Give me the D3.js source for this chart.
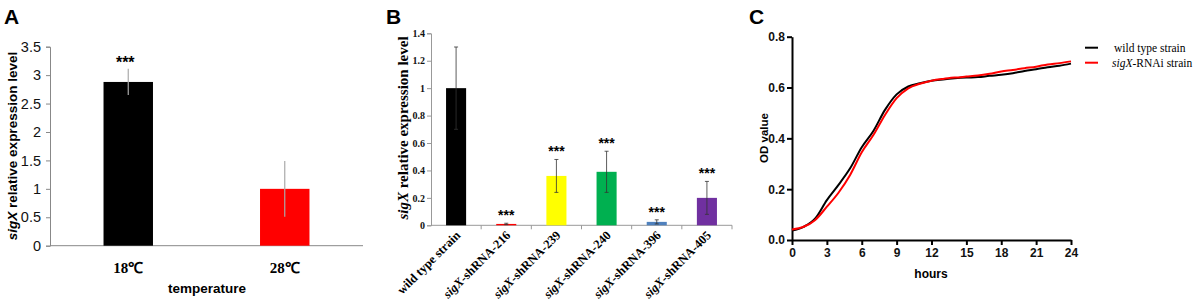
<!DOCTYPE html>
<html>
<head>
<meta charset="utf-8">
<script src="https://cdn.jsdelivr.net/npm/d3@7"></script>
<style>
  body { margin: 0; background: #fff; }
  svg { display: block; }
  .sans { font-family: "Liberation Sans", Arial, sans-serif; }
  .serif { font-family: "Liberation Serif", "Times New Roman", serif; }
</style>
</head>
<body>
<svg class="svg1" width="1196" height="306"></svg>
<script>
// panel A
var tempCats = ["18\u2103", "28\u2103"];
var tempVals = [2.88, 1.0];
var tempErr = [0.23, 0.49];
var tempCols = ["#000000", "#ff0000"];
var tempStars = ["***", ""];
var tempTicks = [0, 0.5, 1, 1.5, 2, 2.5, 3, 3.5];

// panel B
var strainCats = ["wild type strain", "-shRNA-216", "-shRNA-239", "-shRNA-240", "-shRNA-396", "-shRNA-405"];
var strainVals = [1.0, 0.01, 0.36, 0.39, 0.025, 0.2];
var strainErr = [0.3, 0.005, 0.12, 0.15, 0.015, 0.12];
var strainCols = ["#000000", "#ff0000", "#ffff00", "#00b050", "#4f81bd", "#7030a0"];
var strainStars = ["", "***", "***", "***", "***", "***"];
var strainTicks = [0, 0.2, 0.4, 0.6, 0.8, 1, 1.2, 1.4];

// panel C
var hours = [0, 1, 2, 3, 4, 5, 6, 7, 8, 9, 10, 11, 12, 13, 14, 15, 16, 17, 18, 19, 20, 21, 22, 23, 24];
var odWild = [0.037, 0.052, 0.085, 0.157, 0.217, 0.282, 0.365, 0.429, 0.512, 0.573, 0.604, 0.617, 0.627, 0.632, 0.636, 0.639, 0.641, 0.646, 0.650, 0.656, 0.665, 0.672, 0.680, 0.686, 0.694];
var odRnai = [0.041, 0.052, 0.079, 0.131, 0.186, 0.256, 0.345, 0.413, 0.492, 0.558, 0.597, 0.615, 0.627, 0.634, 0.639, 0.643, 0.647, 0.654, 0.663, 0.669, 0.676, 0.682, 0.691, 0.696, 0.703];
var hourTicks = [0, 3, 6, 9, 12, 15, 18, 21, 24];
var odTicks = [0, 0.2, 0.4, 0.6, 0.8];
var legendNames = ["wild type strain", "-RNAi strain"];
var lineCols = ["#000000", "#ff0000"];

var svg = d3.select(".svg1");
svg.append("rect").attr("width", 1196).attr("height", 306).attr("fill", "#fff");

function panelLetter(x, t) {
    svg.append("text").attr("class", "sans")
        .attr("x", x).attr("y", 24)
        .style("font-size", "21px").style("font-weight", "bold")
        .text(t);
}

// ---------------- A ----------------
var gA = svg.append("g").attr("transform", "translate(50,0)");
var xA = d3.scaleBand().domain(tempCats).range([0, 313]).paddingInner(0.684).paddingOuter(0.342);
var yA = d3.scaleLinear().domain([0, 3.5]).range([245.7, 46.7]);

var axA = gA.append("g").call(d3.axisLeft(yA).tickValues(tempTicks).tickSize(4).tickFormat(d3.format("")));
axA.selectAll("line, path").attr("stroke", "#888");
axA.selectAll("text").attr("class", "sans").style("font-size", "14.5px").attr("fill", "#111").attr("x", -9);
gA.append("line").attr("x1", 0).attr("x2", 313).attr("y1", yA(0)).attr("y2", yA(0)).attr("stroke", "#888");

gA.selectAll(".barA").data(tempVals).enter().append("rect")
    .attr("x", function(d, i) { return xA(tempCats[i]); })
    .attr("y", function(d) { return yA(d); })
    .attr("width", xA.bandwidth())
    .attr("height", function(d) { return yA(0) - yA(d); })
    .attr("fill", function(d, i) { return tempCols[i]; });

gA.selectAll(".errA").data(tempVals).enter().append("line")
    .attr("x1", function(d, i) { return xA(tempCats[i]) + xA.bandwidth() / 2; })
    .attr("x2", function(d, i) { return xA(tempCats[i]) + xA.bandwidth() / 2; })
    .attr("y1", function(d, i) { return yA(d - tempErr[i]); })
    .attr("y2", function(d, i) { return yA(d + tempErr[i]); })
    .attr("stroke", "#aaa").attr("stroke-width", 1.2);

gA.selectAll(".starA").data(tempVals).enter().append("text")
    .attr("class", "sans")
    .attr("x", function(d, i) { return xA(tempCats[i]) + xA.bandwidth() / 2 - 3; })
    .attr("y", function(d, i) { return yA(d + tempErr[i]) - 1; })
    .attr("text-anchor", "middle").style("font-size", "16px").style("font-weight", "bold")
    .text(function(d, i) { return tempStars[i]; });

gA.selectAll(".catA").data(tempCats).enter().append("text")
    .attr("class", "serif")
    .attr("x", function(d) { return xA(d) + xA.bandwidth() / 2; })
    .attr("y", 273)
    .attr("text-anchor", "middle").style("font-size", "15px").style("font-weight", "bold")
    .text(function(d) { return d; });

svg.append("text").attr("class", "sans")
    .attr("x", 207).attr("y", 293).attr("text-anchor", "middle")
    .style("font-size", "13.5px").style("font-weight", "bold").text("temperature");

var ylA = svg.append("text").attr("class", "sans")
    .attr("transform", "translate(17,146) rotate(-90)").attr("text-anchor", "middle")
    .style("font-size", "13.5px").style("font-weight", "bold");
ylA.append("tspan").style("font-style", "italic").text("sigX");
ylA.append("tspan").text(" relative expression level");

panelLetter(4, "A");

// ---------------- B ----------------
var gB = svg.append("g").attr("transform", "translate(431,0)");
var xB = d3.scaleBand().domain(strainCats).range([0, 301]).paddingInner(0.6).paddingOuter(0.3);
var yB = d3.scaleLinear().domain([0, 1.4]).range([225.3, 33.3]);

var axB = gB.append("g").call(d3.axisLeft(yB).tickValues(strainTicks).tickSize(4).tickFormat(d3.format("")));
axB.selectAll("line, path").attr("stroke", "#999");
axB.selectAll("text").attr("class", "serif").style("font-size", "10px").style("font-weight", "bold").attr("fill", "#111").attr("x", -6);
gB.append("line").attr("x1", 0).attr("x2", 301).attr("y1", yB(0)).attr("y2", yB(0)).attr("stroke", "#999");
gB.selectAll(".tickB").data(strainCats).enter().append("line")
    .attr("x1", function(d, i) { return (i + 1) * 301 / strainCats.length; })
    .attr("x2", function(d, i) { return (i + 1) * 301 / strainCats.length; })
    .attr("y1", yB(0)).attr("y2", yB(0) + 4).attr("stroke", "#999");

gB.selectAll(".barB").data(strainVals).enter().append("rect")
    .attr("x", function(d, i) { return xB(strainCats[i]); })
    .attr("y", function(d) { return yB(d); })
    .attr("width", xB.bandwidth())
    .attr("height", function(d) { return yB(0) - yB(d); })
    .attr("fill", function(d, i) { return strainCols[i]; });

gB.selectAll(".errB").data(strainVals).enter().append("path")
    .attr("d", function(d, i) {
        var cx = xB(strainCats[i]) + xB.bandwidth() / 2;
        var y1 = yB(d - strainErr[i]), y2 = yB(d + strainErr[i]);
        return "M" + cx + "," + y1 + "V" + y2 + "M" + (cx - 2) + "," + y1 + "H" + (cx + 2) + "M" + (cx - 2) + "," + y2 + "H" + (cx + 2);
    })
    .attr("stroke", "#333").attr("stroke-width", 0.8).attr("fill", "none");

gB.selectAll(".starB").data(strainVals).enter().append("text")
    .attr("class", "sans")
    .attr("x", function(d, i) { return xB(strainCats[i]) + xB.bandwidth() / 2; })
    .attr("y", function(d, i) { return yB(d + strainErr[i]) - 3; })
    .attr("text-anchor", "middle").style("font-size", "14px").style("font-weight", "bold")
    .text(function(d, i) { return strainStars[i]; });

gB.selectAll(".catB").data(strainCats).enter().append("text")
    .attr("class", "serif")
    .attr("transform", function(d) {
        return "translate(" + (xB(d) + xB.bandwidth() / 2 + 5) + ",236) rotate(-45)";
    })
    .attr("text-anchor", "end").style("font-size", "12.5px").style("font-weight", "bold")
    .each(function(d, i) {
        var t = d3.select(this);
        if (i > 0) t.append("tspan").style("font-style", "italic").text("sigX");
        t.append("tspan").text(d);
    });

var ylB = svg.append("text").attr("class", "serif")
    .attr("transform", "translate(408,128) rotate(-90)").attr("text-anchor", "middle")
    .style("font-size", "15px").style("font-weight", "bold");
ylB.append("tspan").style("font-style", "italic").text("sigX");
ylB.append("tspan").text(" relative expression level");

panelLetter(386, "B");

// ---------------- C ----------------
var gC = svg.append("g").attr("transform", "translate(792,0)");
var xC = d3.scaleLinear().domain([0, 24]).range([0, 279]);
var yC = d3.scaleLinear().domain([0, 0.8]).range([240, 36.7]);

var axCy = gC.append("g").call(d3.axisLeft(yC).tickValues(odTicks).tickSize(5).tickSizeOuter(0).tickFormat(d3.format(".1f")));
var axCx = gC.append("g").attr("transform", "translate(0,240)")
    .call(d3.axisBottom(xC).tickValues(hourTicks).tickSize(5).tickSizeOuter(0).tickFormat(d3.format("d")));
[axCy, axCx].forEach(function(a) {
    a.selectAll("line, path").attr("stroke", "#000").attr("stroke-width", 2);
    a.selectAll("text").attr("class", "sans").style("font-size", "12px").style("font-weight", "bold").attr("fill", "#111");
});
axCy.selectAll("text").attr("x", -7);
axCx.selectAll("text").attr("y", 8);

var line = d3.line()
    .x(function(d, i) { return xC(hours[i]); })
    .y(function(d) { return yC(d); })
    .curve(d3.curveMonotoneX);

[odWild, odRnai].forEach(function(s, k) {
    gC.append("path").datum(s).attr("d", line)
        .attr("fill", "none").attr("stroke", lineCols[k]).attr("stroke-width", 2);
});

svg.append("text").attr("class", "sans")
    .attr("x", 931).attr("y", 278).attr("text-anchor", "middle")
    .style("font-size", "12px").style("font-weight", "bold").text("hours");
svg.append("text").attr("class", "sans")
    .attr("transform", "translate(768,138) rotate(-90)").attr("text-anchor", "middle")
    .style("font-size", "11.5px").style("font-weight", "bold").text("OD value");

legendNames.forEach(function(n, k) {
    var ly = 47.7 + k * 15;
    svg.append("line").attr("x1", 1085).attr("x2", 1098).attr("y1", ly).attr("y2", ly)
        .attr("stroke", lineCols[k]).attr("stroke-width", 2);
    var t = svg.append("text").attr("class", "serif")
        .attr("x", k == 0 ? 1114 : 1112).attr("y", ly + 4).style("font-size", "11.5px");
    if (k == 1) t.append("tspan").style("font-style", "italic").text("sigX");
    t.append("tspan").text(n);
});

panelLetter(749, "C");
</script>
</body>
</html>
